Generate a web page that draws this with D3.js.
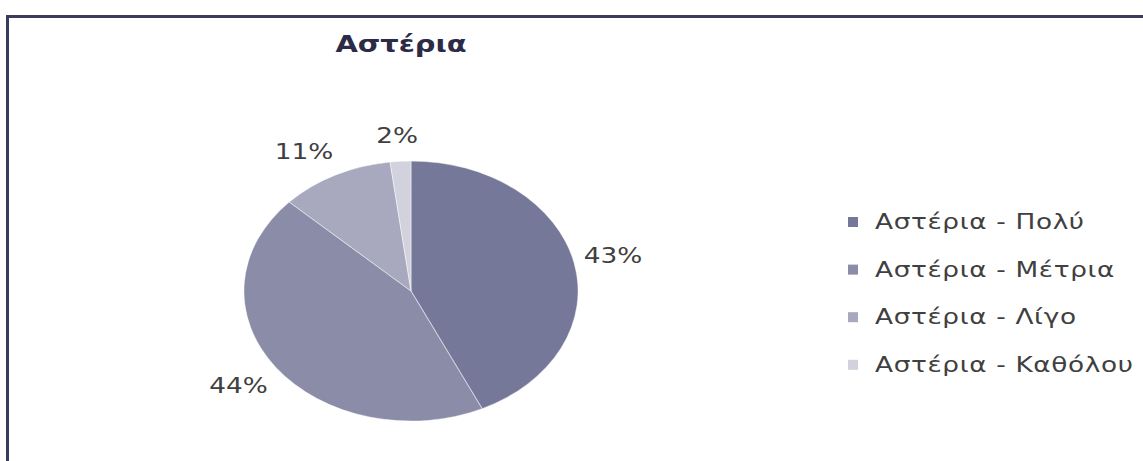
<!DOCTYPE html>
<html>
<head>
<meta charset="utf-8">
<script src="https://cdn.jsdelivr.net/npm/d3@7"></script>
<style>
  html, body { margin: 0; padding: 0; background: #fff; }
  svg { display: block; }
  text { font-family: "DejaVu Sans", Verdana, sans-serif; }
</style>
</head>
<body>
<svg id="chart" width="1143" height="461"></svg>
<script>
// Chart content
const title = "Αστέρια";
const categories = ["Αστέρια - Πολύ", "Αστέρια - Μέτρια", "Αστέρια - Λίγο", "Αστέρια - Καθόλου"];
const values = [43, 44, 11, 2];
const colors = ["#76789a", "#8a8ca8", "#a8a9be", "#d2d2de"];

const W = 1143, H = 461;
const svg = d3.select("#chart");

// Horizontal stretch of the whole figure
const sx = 1.285;

// Frame (top and left edges)
svg.append("line").attr("x1", 6).attr("x2", W).attr("y1", 16.5).attr("y2", 16.5)
  .attr("stroke", "#3b3b5e").attr("stroke-width", 3);
svg.append("line").attr("x1", 7.5).attr("x2", 7.5).attr("y1", 15).attr("y2", H)
  .attr("stroke", "#3b3b5e").attr("stroke-width", 3);

// Title
svg.append("text")
  .attr("transform", `translate(401,52) scale(${sx},1)`)
  .attr("text-anchor", "middle")
  .attr("font-size", 22.5).attr("font-weight", "bold")
  .attr("fill", "#2b2b48")
  .text(title);

// Pie
const cx = 411, cy = 291, r = 130;
const pie = d3.pie().sort(null).value(d => d)(values);
const arc = d3.arc().innerRadius(0).outerRadius(r);

const g = svg.append("g").attr("transform", `translate(${cx},${cy}) scale(${sx},1)`);
g.selectAll("path").data(pie).join("path")
  .attr("d", arc)
  .attr("fill", (d, i) => colors[i])
  .attr("stroke", "rgba(255,255,255,0.45)")
  .attr("stroke-width", 0.8);

// Percentage labels placed just outside each slice
const fmt = d3.format(".0%");
const total = d3.sum(values);
const lblSize = 20.5;
const clamp = v => Math.max(-1, Math.min(1, v));
pie.forEach((d, i) => {
  const a = (d.startAngle + d.endAngle) / 2;
  const s = Math.sin(a), c = Math.cos(a);
  // point on the rim, then a small gap outwards
  const px = cx + s * r * sx + s * 10;
  const py = cy - c * r - c * 18;
  const t = svg.append("text")
    .attr("font-size", lblSize)
    .attr("fill", "#404040")
    .text(fmt(values[i] / total));
  const w = t.node().getComputedTextLength() * sx;
  const h = lblSize * 0.73;
  const tx = px + clamp(2 * s) * w / 2;
  const ty = py - clamp(2 * c) * h / 2 + h / 2;
  t.attr("text-anchor", "middle")
   .attr("transform", `translate(${tx},${ty}) scale(${sx},1)`);
});

// Legend
const legend = svg.append("g");
categories.forEach((name, i) => {
  const y = 222 + i * 47.6;
  legend.append("rect")
    .attr("x", 848).attr("y", y - 5).attr("width", 10).attr("height", 10)
    .attr("fill", colors[i]);
  legend.append("text")
    .attr("transform", `translate(875,${y + 7}) scale(${sx},1)`)
    .attr("font-size", 20.5)
    .attr("letter-spacing", 0.5)
    .attr("fill", "#404040")
    .text(name);
});
</script>
</body>
</html>
